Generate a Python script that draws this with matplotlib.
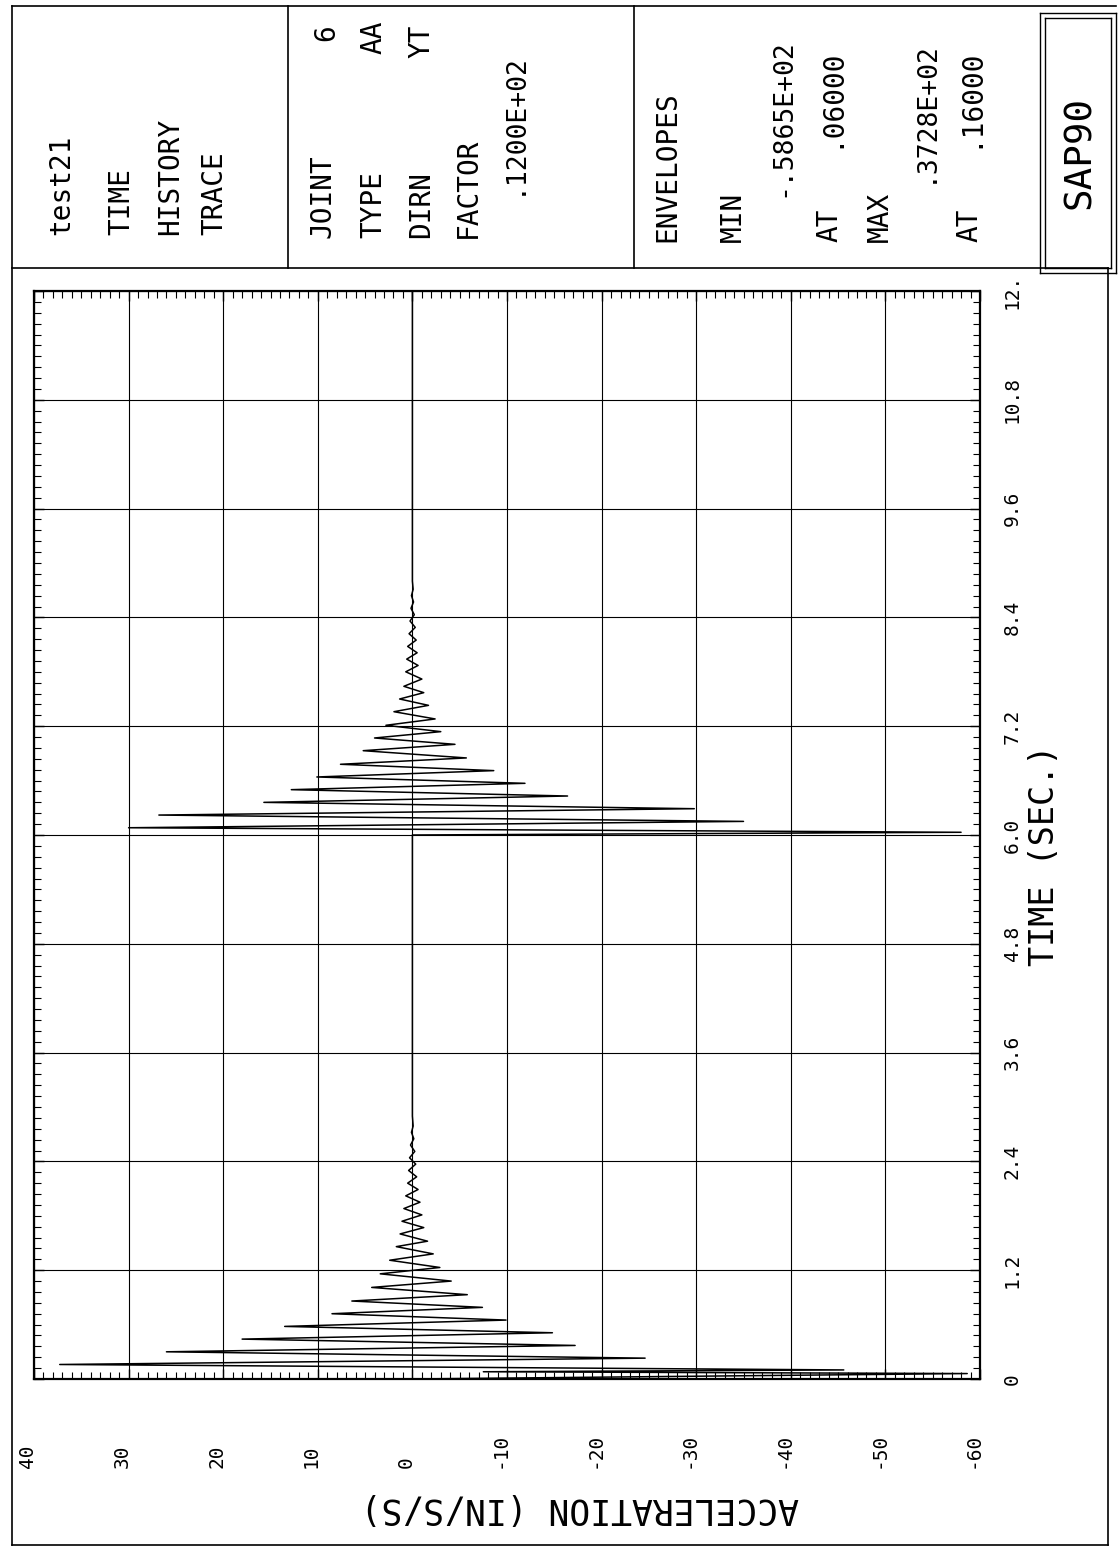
import matplotlib
matplotlib.use('Agg')
import matplotlib.pyplot as plt
import matplotlib.transforms as mtransforms
from matplotlib.ticker import MultipleLocator
from matplotlib.lines import Line2D

# SAP90 time history trace, joint 6 (plot is turned 90 deg on the page)
burst1_time = [0.00, 0.06, 0.08, 0.10, 0.16, 0.23, 0.30, 0.37, 0.44, 0.51, 0.58,
               0.65, 0.72, 0.79, 0.86, 0.93, 1.01, 1.08, 1.16, 1.23, 1.31, 1.38,
               1.46, 1.52, 1.60, 1.67, 1.74, 1.81, 1.88, 1.95, 2.02, 2.09, 2.16,
               2.23, 2.30, 2.37, 2.44, 2.51, 2.58, 2.65, 2.72, 2.79, 2.90]
burst1_accel = [0.0, -58.65, -7.5, -45.6, 37.28, -24.6, 26.0, -17.2, 18.0, -14.8, 13.5,
                -9.9, 8.5, -7.4, 6.4, -5.8, 4.3, -4.1, 3.4, -2.9, 2.4, -2.2,
                1.7, -1.6, 1.3, -1.2, 1.1, -1.0, 0.9, -0.8, 0.7, -0.6, 0.5,
                -0.45, 0.4, -0.35, 0.3, -0.25, 0.2, -0.15, 0.1, -0.08, 0.0]
burst2_time = [6.00, 6.03, 6.08, 6.15, 6.22, 6.29, 6.36, 6.43, 6.50, 6.57, 6.64,
               6.71, 6.78, 6.85, 6.93, 7.00, 7.07, 7.14, 7.21, 7.28, 7.36, 7.43,
               7.50, 7.57, 7.64, 7.72, 7.80, 7.87, 7.94, 8.01, 8.08, 8.15, 8.22,
               8.29, 8.36, 8.43, 8.50, 8.57, 8.64, 8.71, 8.80, 12.0]
burst2_accel = [0.0, -58.0, 30.0, -35.0, 26.8, -29.8, 15.7, -16.4, 12.8, -11.9, 10.1,
                -8.6, 7.6, -5.7, 5.2, -4.5, 4.0, -3.0, 2.8, -2.4, 1.95, -1.7,
                1.35, -1.2, 0.9, -1.0, 0.7, -0.6, 0.6, -0.5, 0.5, -0.4, 0.35,
                -0.3, 0.25, -0.2, 0.15, -0.12, 0.1, -0.08, 0.0, 0.0]

accel_ticks = [40, 30, 20, 10, 0, -10, -20, -30, -40, -50, -60]
time_ticks = [0, 1.2, 2.4, 3.6, 4.8, 6.0, 7.2, 8.4, 9.6, 10.8, 12.0]
time_labels = ['0', '1.2', '2.4', '3.6', '4.8', '6.0', '7.2', '8.4', '9.6', '10.8', '12.']

FONT = 'DejaVu Sans Mono'
W, H = 1118, 1558
fig = plt.figure(figsize=(W / 100, H / 100), dpi=100)


def fx(x):
    return x / W


def fy(y):
    return 1 - y / H


ax = fig.add_axes([fx(34), fy(1379), (980 - 34) / W, (1379 - 291) / H])
ax.plot(burst1_accel + burst2_accel, burst1_time + burst2_time, color='black', lw=1.1, zorder=3)
ax.set_xlim(40, -60)
ax.set_ylim(0, 12)
ax.set_xticks(accel_ticks)
ax.set_yticks(time_ticks)
ax.xaxis.set_minor_locator(MultipleLocator(1))
ax.yaxis.set_minor_locator(MultipleLocator(0.12))
ax.grid(True, which='major', color='black', lw=0.8)
ax.tick_params(which='both', direction='in', top=True, right=True,
               labelbottom=False, labelleft=False, color='black')
ax.tick_params(which='major', length=7, width=1)
ax.tick_params(which='minor', length=5, width=0.8)
for s in ax.spines.values():
    s.set_linewidth(1.6)

# tick labels, drawn sideways like the plotter did
tr = mtransforms.blended_transform_factory(ax.transData, ax.transAxes)
for v in accel_ticks:
    ax.text(v + 0.7, -0.082, str(v), transform=tr, rotation=90, ha='center', va='bottom',
            fontsize=14, family=FONT)
tr2 = mtransforms.blended_transform_factory(ax.transAxes, ax.transData)
for v, lab in zip(time_ticks, time_labels):
    ax.text(1.034, v, lab, transform=tr2, rotation=90, ha='center', va='center',
            fontsize=14, family=FONT)

fig.text(fx(580), fy(1508), 'ACCELERATION (IN/S/S)', rotation=180, ha='center', va='center',
         fontsize=25, family=FONT)
fig.text(fx(1045), fy(855), 'TIME (SEC.)', rotation=90, ha='center', va='center',
         fontsize=24, family=FONT)

# page border and title block
def hline(y, x0, x1, lw=1.2):
    fig.add_artist(Line2D([fx(x0), fx(x1)], [fy(y), fy(y)], color='black', lw=lw))


def vline(x, y0, y1, lw=1.2):
    fig.add_artist(Line2D([fx(x), fx(x)], [fy(y0), fy(y1)], color='black', lw=lw))


hline(6, 12, 1116)
hline(268, 12, 1108)
hline(1545, 12, 1108)
vline(12, 6, 1545)
vline(1108, 268, 1545)
vline(288, 6, 268)
vline(634, 6, 268)
# SAP90 box (double line)
for x0, x1, y0, y1 in [(1040, 1116, 13, 273), (1045, 1111, 18, 268)]:
    hline(y0, x0, x1, 1.0)
    hline(y1, x0, x1, 1.0)
    vline(x0, y0, y1, 1.0)
    vline(x1, y0, y1, 1.0)


def htext(x, y, s, va='bottom', size=20):
    fig.text(fx(x), fy(y), s, rotation=90, ha='center', va=va, fontsize=size, family=FONT)


htext(61, 235, 'test21')
htext(121, 235, 'TIME')
htext(170, 235, 'HISTORY')
htext(214, 235, 'TRACE')

htext(323, 238, 'JOINT')
htext(373, 238, 'TYPE')
htext(421, 238, 'DIRN')
htext(468, 238, 'FACTOR')
htext(326, 24, '6', va='top')
htext(373, 20, 'AA', va='top')
htext(421, 24, 'YT', va='top')
htext(514, 52, '.1200E+02', va='top', size=19)

htext(667, 242, 'ENVELOPES')
htext(733, 242, 'MIN')
htext(782, 38, '-.5865E+02', va='top', size=19)
htext(830, 242, 'AT')
htext(830, 48, '.06000', va='top')
htext(880, 242, 'MAX')
htext(925, 40, '.3728E+02', va='top', size=19)
htext(969, 242, 'AT')
htext(969, 48, '.16000', va='top')

fig.text(fx(1080), fy(152), 'SAP90', rotation=90, ha='center', va='center', fontsize=27,
         family=FONT)

fig.savefig('out.png', dpi=100, facecolor='white')
